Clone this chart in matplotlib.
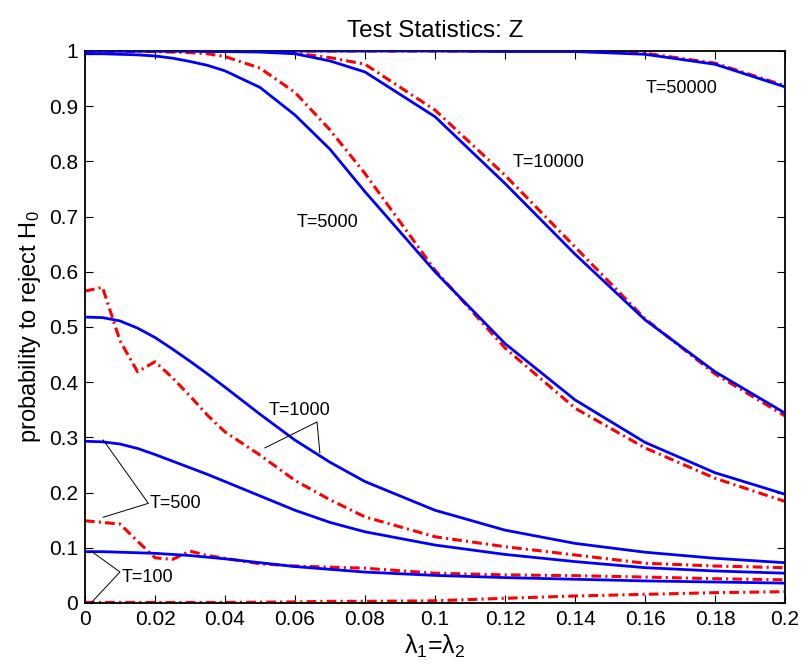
import matplotlib
matplotlib.use("Agg")
import matplotlib.pyplot as plt
import numpy as np

plt.rcParams['font.family'] = ['Liberation Sans', 'DejaVu Sans']
plt.rcParams['mathtext.fontset'] = 'custom'
plt.rcParams['mathtext.rm'] = 'Liberation Sans'
plt.rcParams['mathtext.it'] = 'Liberation Sans:italic'
plt.rcParams['lines.scale_dashes'] = False

# ---- data ----
lam = [0, 0.005, 0.01, 0.015, 0.02, 0.025, 0.03, 0.035, 0.04, 0.05, 0.06, 0.07,
       0.08, 0.1, 0.12, 0.14, 0.16, 0.18, 0.2]

# blue solid curves
blue_T100 = [0.093, 0.093, 0.092, 0.091, 0.090, 0.088, 0.086, 0.083, 0.080, 0.073,
             0.066, 0.061, 0.056, 0.050, 0.046, 0.043, 0.040, 0.038, 0.036]
blue_T500 = [0.293, 0.292, 0.288, 0.280, 0.269, 0.257, 0.245, 0.233, 0.220, 0.194,
             0.168, 0.146, 0.129, 0.105, 0.088, 0.075, 0.064, 0.058, 0.054]
blue_T1000 = [0.518, 0.517, 0.511, 0.498, 0.481, 0.460, 0.438, 0.415, 0.391, 0.342,
              0.295, 0.255, 0.220, 0.168, 0.132, 0.108, 0.092, 0.081, 0.073]
blue_T5000 = [0.995, 0.995, 0.994, 0.993, 0.991, 0.987, 0.981, 0.974, 0.964, 0.934,
              0.884, 0.822, 0.745, 0.600, 0.470, 0.368, 0.291, 0.236, 0.197]
blue_T10000 = [1.0, 1.0, 1.0, 1.0, 1.0, 1.0, 1.0, 0.999, 0.999, 0.998,
               0.995, 0.982, 0.962, 0.881, 0.760, 0.632, 0.513, 0.419, 0.344]
blue_T50000 = [1.0, 1.0, 1.0, 1.0, 1.0, 1.0, 1.0, 1.0, 1.0, 1.0,
               1.0, 1.0, 1.0, 1.0, 0.999, 0.999, 0.994, 0.976, 0.935]

# red dash-dot curves
red_T100 = [0.001, 0.001, 0.001, 0.001, 0.001, 0.001, 0.001, 0.001, 0.001, 0.0015,
            0.002, 0.003, 0.003, 0.004, 0.0085, 0.0127, 0.0157, 0.0187, 0.0205]
red_T500 = [0.149, 0.146, 0.143, 0.112, 0.082, 0.079, 0.094, 0.086, 0.081, 0.071,
            0.067, 0.065, 0.063, 0.054, 0.051, 0.0495, 0.047, 0.044, 0.042]
red_T1000 = [0.565, 0.572, 0.475, 0.419, 0.437, 0.408, 0.375, 0.340, 0.310, 0.268,
             0.222, 0.187, 0.156, 0.120, 0.102, 0.087, 0.072, 0.067, 0.064]
red_T5000 = [1.0, 1.0, 1.0, 0.999, 0.999, 0.998, 0.997, 0.995, 0.990, 0.969,
             0.925, 0.857, 0.778, 0.603, 0.462, 0.353, 0.281, 0.226, 0.184]
red_T10000 = [1.0, 1.0, 1.0, 1.0, 1.0, 1.0, 1.0, 1.0, 1.0, 0.999,
              0.996, 0.988, 0.976, 0.893, 0.775, 0.645, 0.515, 0.415, 0.339]
red_T50000 = [1.0, 1.0, 1.0, 1.0, 1.0, 1.0, 1.0, 1.0, 1.0, 1.0,
              1.0, 1.0, 1.0, 1.0, 1.0, 1.0, 0.996, 0.978, 0.937]

blue_series = [blue_T100, blue_T500, blue_T1000, blue_T5000, blue_T10000, blue_T50000]
red_series = [red_T100, red_T500, red_T1000, red_T5000, red_T10000, red_T50000]

xticks = [0, 0.02, 0.04, 0.06, 0.08, 0.1, 0.12, 0.14, 0.16, 0.18, 0.2]
xticklabels = ['0', '0.02', '0.04', '0.06', '0.08', '0.1', '0.12', '0.14', '0.16', '0.18', '0.2']
yticks = [0, 0.1, 0.2, 0.3, 0.4, 0.5, 0.6, 0.7, 0.8, 0.9, 1.0]
yticklabels = ['0', '0.1', '0.2', '0.3', '0.4', '0.5', '0.6', '0.7', '0.8', '0.9', '1']

labels = ['T=50000', 'T=10000', 'T=5000', 'T=1000', 'T=500', 'T=100']
label_pos = [(0.1603, 0.932), (0.1223, 0.798), (0.0605, 0.689), (0.0524, 0.3496),
             (0.0186, 0.181), (0.0106, 0.047)]
# annotation pointer lines: apex, then two targets
pointers = [
    ((0.0663, 0.328), (0.0671, 0.272), (0.0514, 0.281)),
    ((0.0181, 0.1806), (0.0052, 0.2953), (0.0052, 0.1553)),
    ((0.0100, 0.0562), (0.0017, 0.0942), (0.0017, 0.0)),
]

# ---- figure ----
fig = plt.figure(figsize=(8.01, 6.64), dpi=100)
ax = fig.add_axes([85 / 801, 61 / 664, 700 / 801, 552 / 664])

for r in red_series:
    ax.plot(lam, r, color='#ff0000', lw=2.2, dashes=(7, 3, 1.5, 3), zorder=2)
for b in blue_series:
    ax.plot(lam, b, color='#0000ff', lw=2.0, zorder=3)

for (apex, t1, t2) in pointers:
    ax.plot([t1[0], apex[0], t2[0]], [t1[1], apex[1], t2[1]], color='black', lw=0.7,
            zorder=4, clip_on=False)

for lab, (lx, ly) in zip(labels, label_pos):
    ax.text(lx, ly, lab, fontsize=13, ha='left', va='center', zorder=5)

ax.set_xlim(0, 0.2)
ax.set_ylim(0, 1)
ax.set_xticks(xticks)
ax.set_xticklabels(xticklabels)
ax.set_yticks(yticks)
ax.set_yticklabels(yticklabels)
ax.tick_params(direction='in', length=6, width=0.8, top=True, right=True,
               labelsize=15, pad=5)
for s in ax.spines.values():
    s.set_linewidth(1.3)

ax.set_title('Test Statistics: Z', fontsize=17.5, pad=10)
ax.set_xlabel('λ$_\\mathrm{1}$=λ$_\\mathrm{2}$', fontsize=18, labelpad=3)
ax.set_ylabel('probability to reject H$_\\mathrm{0}$', fontsize=17, labelpad=4)

fig.savefig('out.png', dpi=100)
